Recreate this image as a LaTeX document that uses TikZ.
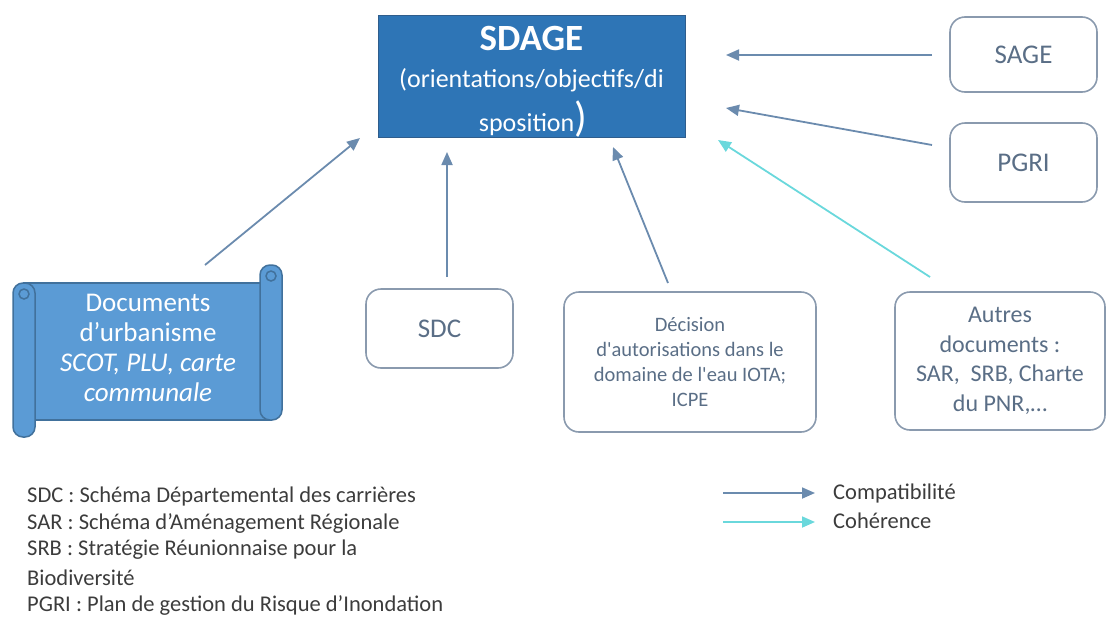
\documentclass[tikz,border=0pt]{standalone}
\usepackage{fontspec}
\setmainfont{Carlito}
\usetikzlibrary{arrows.meta}
\definecolor{sdageblue}{HTML}{2E75B6}
\definecolor{sdageedge}{HTML}{2F5D8C}
\definecolor{scrollfill}{HTML}{5B9BD5}
\definecolor{scrolledge}{HTML}{41719C}
\definecolor{boxgray}{HTML}{8A9AAE}
\definecolor{boxtext}{HTML}{5A6E86}
\definecolor{arrcol}{HTML}{6B8BAE}
\definecolor{cohcol}{HTML}{6AD8DC}
\definecolor{legtext}{HTML}{3C3C3C}
\tikzset{
  rbox/.style={draw=boxgray, line width=1.6pt, rounded corners=15pt, inner sep=0pt, align=center, text=boxtext},
  arr/.style={draw=arrcol, line width=1.8pt, -{Triangle[length=13pt,width=11pt]}},
  coh/.style={draw=cohcol, line width=1.8pt, -{Triangle[length=13pt,width=11pt]}},
  leg/.style={anchor=west, inner sep=0pt, text=legtext, font=\fontsize{22.5}{28}\selectfont},
  scrollpart/.style={fill=scrollfill, draw=scrolledge, line width=1.5pt}
}
\begin{document}
\begin{tikzpicture}[x=1pt,y=-1pt]
\useasboundingbox (0,0) rectangle (1108,616);

% SDAGE
\node[draw=sdageedge, line width=1pt, fill=sdageblue, minimum width=307pt, minimum height=122pt, inner sep=0pt] (sdage) at (531.5,76) {};
\node[text=white, inner sep=0pt, font=\bfseries\fontsize{37}{37}\selectfont] (sdaget) at (531.5,38) {SDAGE};
\node[text=white, inner sep=0pt, font=\fontsize{26}{26}\selectfont] (sdage2) at (531.5,80) {(orientations/objectifs/di};
\node[text=white, inner sep=0pt, font=\fontsize{26}{26}\selectfont] (sdage3) at (533,119) {sposition{\fontsize{42}{42}\selectfont)}};

% right boxes
\node[rbox, minimum width=147pt, minimum height=75pt, font=\fontsize{27}{33}\selectfont] (sage) at (1023.5,54.5) {SAGE};
\node[rbox, minimum width=147pt, minimum height=79pt, font=\fontsize{27}{33}\selectfont] (pgri) at (1023.5,162.5) {PGRI};

% bottom boxes
\node[rbox, minimum width=147pt, minimum height=79pt, font=\fontsize{27}{33}\selectfont] (sdc) at (439.5,328.5) {SDC};
\node[rbox, minimum width=252pt, minimum height=140pt, font=\fontsize{20.5}{25}\selectfont] (deci) at (690,362) {D\'ecision\\d\textquotesingle autorisations dans le\\domaine de l\textquotesingle eau IOTA;\\ICPE};
\node[rbox, minimum width=210pt, minimum height=138pt, font=\fontsize{24}{29.5}\selectfont] (autres) at (1000,361) {Autres\\documents :\\SAR,\ \ SRB, Charte\\du PNR,\dots};

% scroll
\draw[scrollpart] (24,283) rectangle (271,420);
\draw[scrollpart, rounded corners=10pt] (260,300) -- (260,265) -- (282,265) -- (282,420) -- (260,420) -- cycle;
\draw[scrollpart, rounded corners=10pt] (13,283) -- (35,283) -- (35,437) -- (13,437) -- cycle;
\draw[scrollpart] (271,276) circle (5pt);
\draw[scrollpart] (24,294) circle (5pt);
\node[text=white, align=center, inner sep=0pt, font=\fontsize{27}{30}\selectfont] (urba) at (148,348) {Documents\\d'urbanisme\\\textit{SCOT, PLU, carte}\\\textit{communale}};

% arrow ends
\coordinate (urbaT) at (205,265);
\coordinate (urbaH) at (360,138);
\coordinate (sdcT) at (447,277);
\coordinate (sdcH) at (447,152);
\coordinate (deciT) at (668,283);
\coordinate (deciH) at (613,147);
\coordinate (autT) at (930,277);
\coordinate (autH) at (718,140);
\coordinate (sageT) at (932,55);
\coordinate (sageH) at (726,55);
\coordinate (pgriT) at (932,145);
\coordinate (pgriH) at (726,108);

\draw[arr] (urbaT) -- (urbaH);
\draw[arr] (sdcT) -- (sdcH);
\draw[arr] (deciT) -- (deciH);
\draw[coh] (autT) -- (autH);
\draw[arr] (sageT) -- (sageH);
\draw[arr] (pgriT) -- (pgriH);

% legend
\node[leg] (l1) at (27,496) {SDC : Sch\'ema D\'epartemental des carri\`eres};
\node[leg] (l2) at (27,523) {SAR : Sch\'ema d'Am\'enagement R\'egionale};
\node[leg] (l3) at (27,550) {SRB : Strat\'egie R\'eunionnaise pour la};
\node[leg] (l4) at (27,578) {Biodiversit\'e};
\node[leg] (l5) at (27,605) {PGRI : Plan de gestion du Risque d'Inondation};

\coordinate (c1T) at (723,493);
\coordinate (c1H) at (815,493);
\coordinate (c2T) at (723,522);
\coordinate (c2H) at (815,522);
\draw[arr] (c1T) -- (c1H);
\draw[coh] (c2T) -- (c2H);
\node[leg] (lc) at (833,493) {Compatibilit\'e};
\node[leg] (lh) at (833,521) {Coh\'erence};
\end{tikzpicture}
\end{document}
